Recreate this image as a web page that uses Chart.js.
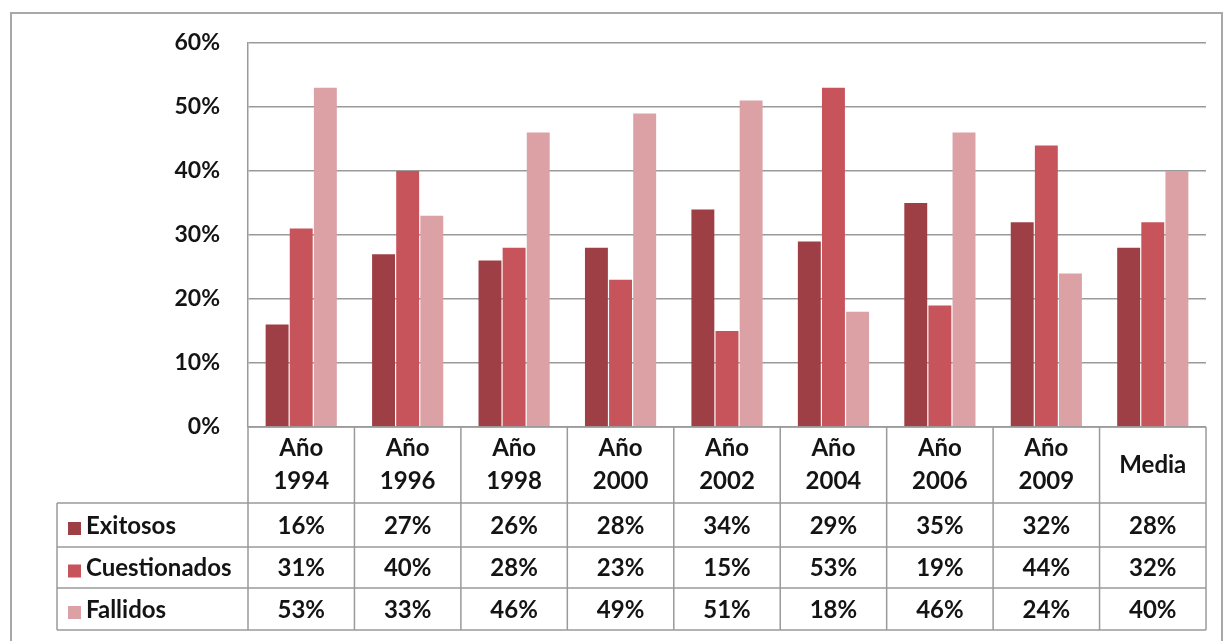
<!DOCTYPE html>
<html>
<head>
<meta charset="utf-8">
<script src="https://cdn.jsdelivr.net/npm/chart.js@4/dist/chart.umd.min.js"></script>
<style>
html,body{margin:0;padding:0;background:#fff;}
#wrap{width:1224px;height:641px;position:relative;}
</style>
</head>
<body>
<div id="wrap"><canvas id="c" width="1224" height="641"></canvas></div>
<script>
const categories = [["Año","1994"],["Año","1996"],["Año","1998"],["Año","2000"],["Año","2002"],["Año","2004"],["Año","2006"],["Año","2009"],["Media"]];
const seriesNames = ["Exitosos","Cuestionados","Fallidos"];
const exitosos = [16,27,26,28,34,29,35,32,28];
const cuestionados = [31,40,28,23,15,53,19,44,32];
const fallidos = [53,33,46,49,51,18,46,24,40];
const yTicks = [0,10,20,30,40,50,60];

const colors = ['#9e3f46','#c6545a','#dba1a5'];
const FONT = 'Lato, "Open Sans", sans-serif';
const TXT = '#141414';
const LINE = '#9a9a9a';

const framePlugin = {
  id:'frame',
  beforeDraw(chart){
    const ctx = chart.ctx;
    ctx.save();
    ctx.fillStyle = '#fff';
    ctx.fillRect(0,0,chart.width,chart.height);
    ctx.strokeStyle = '#a8a8a8';
    ctx.lineWidth = 2;
    ctx.strokeRect(11,13,1211,640);
    ctx.restore();
  }
};

const tablePlugin = {
  id:'table',
  afterDraw(chart){
    const ctx = chart.ctx;
    const area = chart.chartArea;
    const x = chart.scales.x;
    const n = categories.length;
    const w = x.getPixelForValue(1) - x.getPixelForValue(0);
    const headTop = area.bottom;
    const rowTops = [503, 547, 588];
    const tableBottom = 630;
    const tableLeft = 57;
    ctx.save();
    ctx.strokeStyle = LINE;
    ctx.lineWidth = 1.5;
    ctx.beginPath();
    ctx.moveTo(area.left, headTop); ctx.lineTo(area.right, headTop);
    [...rowTops, tableBottom].forEach(yy => { ctx.moveTo(tableLeft, yy); ctx.lineTo(area.right, yy); });
    for (let i = 0; i <= n; i++) {
      const bx = i < n ? x.getPixelForValue(i) - w/2 : x.getPixelForValue(n-1) + w/2;
      ctx.moveTo(bx, headTop); ctx.lineTo(bx, tableBottom);
    }
    ctx.moveTo(tableLeft, rowTops[0]); ctx.lineTo(tableLeft, tableBottom);
    ctx.stroke();

    ctx.fillStyle = TXT;
    ctx.font = 'bold 24px ' + FONT;
    ctx.textAlign = 'center';
    ctx.textBaseline = 'middle';
    categories.forEach((c, i) => {
      const cx = x.getPixelForValue(i);
      const lines = Array.isArray(c) ? c : [c];
      if (lines.length === 2) {
        ctx.fillText(lines[0], cx, 448);
        ctx.fillText(lines[1], cx, 481);
      } else {
        ctx.fillText(lines[0], cx, 465);
      }
    });
    chart.data.datasets.forEach((ds, r) => {
      const cy = (rowTops[r] + (r < 2 ? rowTops[r+1] : tableBottom)) / 2 + 1;
      ds.data.forEach((v, i) => {
        ctx.fillStyle = TXT;
        ctx.textAlign = 'center';
        ctx.fillText(v + '%', x.getPixelForValue(i), cy);
      });
      ctx.fillStyle = ds.backgroundColor;
      ctx.fillRect(68, cy - 4, 13, 13);
      ctx.fillStyle = TXT;
      ctx.textAlign = 'left';
      ctx.fillText(ds.label, 86, cy);
    });
    ctx.restore();
  }
};

const ctx = document.getElementById('c').getContext('2d');
function draw(){
  new Chart(ctx, {
    type:'bar',
    data:{
      labels: categories,
      datasets:[
        {label:seriesNames[0], data:exitosos, backgroundColor:colors[0]},
        {label:seriesNames[1], data:cuestionados, backgroundColor:colors[1]},
        {label:seriesNames[2], data:fallidos, backgroundColor:colors[2]}
      ]
    },
    options:{
      responsive:false,
      animation:false,
      events:[],
      layout:{padding:{top:43,right:18,bottom:214,left:0}},
      datasets:{bar:{categoryPercentage:0.68, barPercentage:0.95}},
      plugins:{legend:{display:false}, tooltip:{enabled:false}},
      scales:{
        x:{display:false},
        y:{
          min:yTicks[0], max:yTicks[yTicks.length-1],
          afterFit(scale){ scale.width = 248; },
          afterBuildTicks(scale){ scale.ticks = yTicks.map(v => ({value:v})); },
          ticks:{
            padding:28,
            color:TXT,
            font:{family:FONT, size:23, weight:'bold'},
            callback:(v)=> v + '%'
          },
          grid:{color:LINE, lineWidth:1.5, drawTicks:false},
          border:{display:true, color:LINE, width:1.5}
        }
      }
    },
    plugins:[framePlugin, tablePlugin]
  });
}
if (document.fonts && document.fonts.load) {
  document.fonts.load('bold 24px Lato').then(draw, draw);
} else { draw(); }
</script>
</body>
</html>
